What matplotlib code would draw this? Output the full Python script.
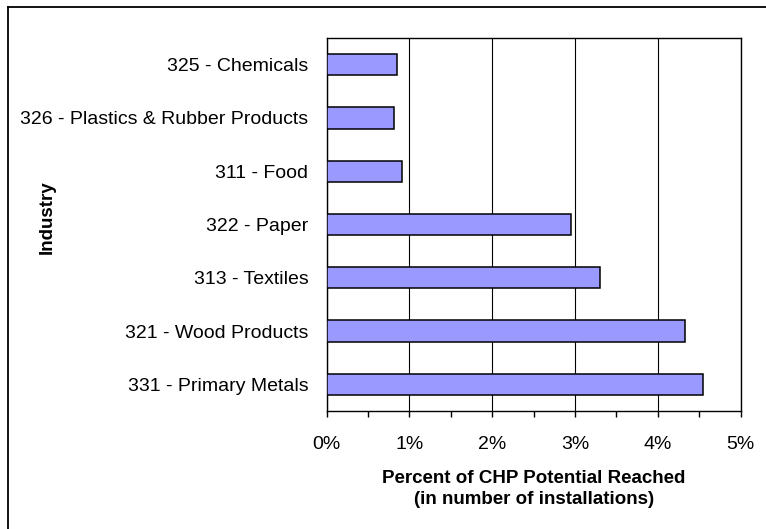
import matplotlib
matplotlib.use("Agg")
import matplotlib.pyplot as plt
from matplotlib.ticker import MultipleLocator, FuncFormatter
from matplotlib.lines import Line2D

plt.rcParams['font.family'] = ['Liberation Sans', 'DejaVu Sans']

industries = [
    "325 - Chemicals",
    "326 - Plastics & Rubber Products",
    "311 - Food",
    "322 - Paper",
    "313 - Textiles",
    "321 - Wood Products",
    "331 - Primary Metals",
]
pct_reached = [0.85, 0.81, 0.91, 2.95, 3.30, 4.33, 4.54]

fig = plt.figure(figsize=(7.66, 5.29), dpi=100)
ax = fig.add_axes([0.4263, 0.2231, 0.5407, 0.7051])

ypos = list(range(len(industries)))
ax.barh(ypos, pct_reached, height=0.4, color='#9999FF', edgecolor='black',
        linewidth=1.1, zorder=3)
ax.set_yticks(ypos)
ax.set_yticklabels(industries, fontsize=14)
ax.set_ylim(len(industries) - 0.5, -0.5)

ax.set_xlim(0, 5)
ax.xaxis.set_major_locator(MultipleLocator(1))
ax.xaxis.set_minor_locator(MultipleLocator(0.5))
ax.xaxis.set_major_formatter(FuncFormatter(lambda v, p: f"{v:.0f}%"))
ax.tick_params(axis='x', which='major', length=4, width=1, pad=14, labelsize=14)
ax.tick_params(axis='x', which='minor', length=4, width=1)
ax.tick_params(axis='y', length=0, pad=13)
ax.grid(axis='x', which='major', color='black', linewidth=0.8, zorder=0)

for s in ax.spines.values():
    s.set_color('black')
    s.set_linewidth(1)

ax.set_xlabel("Percent of CHP Potential Reached\n(in number of installations)",
              fontsize=13.5, fontweight='bold', labelpad=12, linespacing=1.3)
fig.text(47 / 766, 1 - 217 / 529, "Industry", rotation=90, fontsize=13.5,
         fontweight='bold', ha='center', va='center')

# outer chart border (only left and top visible)
fig.add_artist(Line2D([8 / 766, 8 / 766], [0, 1 - 7 / 529], color='black',
                      linewidth=1.3, transform=fig.transFigure))
fig.add_artist(Line2D([8 / 766, 1], [1 - 7 / 529, 1 - 7 / 529], color='black',
                      linewidth=1.3, transform=fig.transFigure))

fig.savefig("out.png", dpi=100)
